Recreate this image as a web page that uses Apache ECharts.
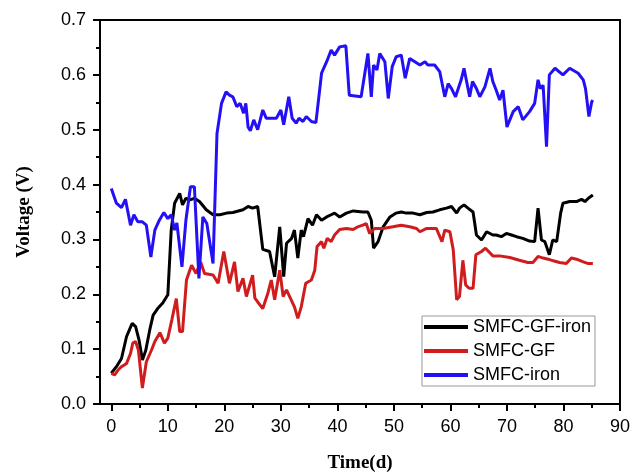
<!DOCTYPE html>
<html>
<head>
<meta charset="utf-8">
<script src="https://cdn.jsdelivr.net/npm/echarts@6/dist/echarts.min.js"></script>
<style>html,body{margin:0;padding:0;background:#fff;}#c{width:632px;height:474px;}</style>
</head>
<body>
<div id="c"></div>
<script>
const seriesNames = ['SMFC-GF-iron', 'SMFC-GF', 'SMFC-iron'];
const xMajorTicks = [0, 10, 20, 30, 40, 50, 60, 70, 80, 90];
const xMinorTicks = [5, 15, 25, 35, 45, 55, 65, 75, 85];
const yMajorTicks = [0, 0.1, 0.2, 0.3, 0.4, 0.5, 0.6, 0.7];
const yMinorTicks = [0.05, 0.15, 0.25, 0.35, 0.45, 0.55, 0.65];

// [day, voltage]
const gfIron = [[0,0.056],[0.9,0.068],[1.8,0.083],[2.7,0.123],[3.2,0.135],[3.7,0.147],[4.3,0.141],[4.9,0.117],[5.5,0.080],[6.1,0.098],[6.8,0.135],[7.4,0.162],[8.2,0.174],[9.1,0.184],[10.0,0.199],[10.6,0.317],[11.2,0.366],[12.1,0.384],[12.6,0.363],[13.2,0.375],[13.9,0.372],[14.7,0.375],[15.6,0.369],[16.8,0.354],[18.0,0.345],[19.2,0.345],[20.4,0.348],[21.5,0.349],[23.3,0.354],[24.2,0.360],[25.0,0.357],[25.9,0.360],[26.8,0.282],[28.0,0.278],[28.9,0.232],[29.8,0.323],[30.5,0.232],[31.0,0.293],[31.9,0.302],[32.4,0.317],[33.0,0.266],[33.6,0.317],[34.0,0.305],[34.8,0.338],[35.6,0.326],[36.3,0.345],[37.2,0.335],[38.1,0.341],[38.9,0.345],[39.5,0.348],[40.4,0.341],[41.6,0.348],[42.8,0.352],[44.5,0.350],[45.4,0.350],[46.0,0.335],[46.4,0.284],[47.2,0.296],[48.1,0.323],[49.3,0.341],[50.4,0.348],[51.3,0.350],[52.2,0.348],[53.4,0.348],[54.6,0.345],[55.8,0.349],[56.9,0.350],[58.1,0.354],[59.3,0.357],[60.2,0.360],[61.1,0.348],[61.6,0.357],[62.4,0.363],[63.1,0.357],[64.0,0.350],[64.6,0.308],[65.5,0.299],[66.4,0.314],[67.5,0.308],[68.1,0.308],[69.0,0.305],[69.9,0.311],[70.8,0.308],[71.7,0.305],[72.8,0.302],[74.0,0.297],[74.9,0.296],[75.5,0.357],[76.1,0.299],[76.7,0.296],[77.5,0.272],[78.1,0.299],[78.8,0.296],[79.5,0.348],[79.9,0.366],[81.1,0.369],[82.3,0.369],[83.2,0.373],[83.8,0.369],[84.4,0.375],[85.2,0.381]];

const gf = [[0,0.056],[0.6,0.053],[1.2,0.062],[1.8,0.068],[2.7,0.074],[3.4,0.092],[3.8,0.111],[4.3,0.114],[4.8,0.098],[5.5,0.029],[6.2,0.077],[7.1,0.098],[7.7,0.114],[8.6,0.130],[9.4,0.111],[10.0,0.120],[10.7,0.153],[11.5,0.192],[12.1,0.132],[12.6,0.132],[13.3,0.226],[14.2,0.253],[15.0,0.238],[15.8,0.259],[16.5,0.238],[18.0,0.235],[18.9,0.220],[19.9,0.278],[20.9,0.220],[21.8,0.259],[22.4,0.205],[23.3,0.229],[23.9,0.196],[25.0,0.235],[25.4,0.193],[25.9,0.186],[26.8,0.174],[27.7,0.202],[28.3,0.226],[28.9,0.190],[29.8,0.244],[30.4,0.196],[31.0,0.208],[32.4,0.177],[33.0,0.156],[33.6,0.177],[34.4,0.220],[35.4,0.226],[36.0,0.244],[36.4,0.287],[37.2,0.296],[37.6,0.284],[38.2,0.302],[38.9,0.296],[39.5,0.308],[40.4,0.318],[41.6,0.320],[42.8,0.318],[43.6,0.323],[44.5,0.326],[45.1,0.329],[45.7,0.311],[46.6,0.320],[48.1,0.320],[49.8,0.323],[51.3,0.326],[52.8,0.323],[54.0,0.320],[54.6,0.314],[55.8,0.320],[57.5,0.320],[58.5,0.296],[59.0,0.317],[59.9,0.314],[60.5,0.281],[61.1,0.190],[61.6,0.196],[62.2,0.262],[62.7,0.217],[63.3,0.211],[64.0,0.211],[64.5,0.272],[65.5,0.278],[66.2,0.284],[67.5,0.270],[68.7,0.270],[70.5,0.267],[72.2,0.262],[73.7,0.258],[74.6,0.258],[75.5,0.269],[76.4,0.266],[77.3,0.264],[78.2,0.261],[79.3,0.258],[80.5,0.256],[81.4,0.266],[82.3,0.264],[83.5,0.259],[84.4,0.256],[85.2,0.256]];

const iron = [[0,0.393],[0.9,0.366],[1.8,0.358],[2.5,0.373],[3.4,0.326],[4.0,0.345],[4.7,0.332],[5.5,0.332],[6.2,0.326],[7.0,0.268],[7.7,0.317],[8.5,0.335],[9.3,0.349],[10.0,0.338],[10.6,0.345],[11.2,0.317],[11.6,0.330],[12.5,0.250],[13.2,0.335],[14.0,0.396],[14.7,0.396],[15.5,0.229],[16.2,0.341],[16.9,0.329],[18.0,0.256],[18.7,0.493],[19.5,0.548],[20.3,0.569],[20.9,0.563],[21.5,0.560],[22.2,0.542],[22.8,0.548],[23.4,0.530],[23.8,0.548],[24.2,0.505],[24.6,0.498],[25.2,0.518],[25.9,0.500],[26.8,0.536],[27.4,0.521],[29.2,0.521],[30.0,0.536],[30.5,0.509],[31.4,0.560],[32.0,0.521],[32.7,0.512],[33.2,0.521],[33.9,0.515],[34.5,0.524],[35.4,0.515],[36.2,0.513],[37.2,0.603],[38.1,0.624],[38.9,0.645],[39.5,0.636],[40.4,0.651],[41.5,0.653],[42.1,0.563],[44.2,0.560],[45.4,0.639],[46.0,0.560],[46.4,0.618],[47.0,0.609],[47.5,0.639],[48.4,0.624],[49.0,0.557],[49.7,0.615],[50.4,0.633],[51.3,0.636],[52.0,0.594],[52.8,0.630],[53.7,0.624],[54.6,0.618],[55.5,0.624],[56.0,0.618],[57.2,0.618],[58.1,0.606],[59.0,0.560],[59.6,0.584],[60.2,0.575],[60.9,0.560],[61.9,0.591],[62.4,0.612],[62.8,0.591],[63.4,0.560],[63.9,0.588],[64.6,0.575],[65.2,0.560],[66.1,0.578],[67.0,0.612],[67.5,0.588],[68.1,0.572],[68.7,0.554],[69.3,0.572],[70.0,0.505],[71.1,0.533],[72.0,0.542],[72.8,0.518],[74.0,0.533],[74.9,0.548],[75.5,0.591],[75.9,0.575],[76.4,0.581],[77.0,0.469],[77.5,0.600],[78.5,0.612],[79.9,0.600],[81.1,0.612],[82.6,0.603],[83.5,0.591],[83.9,0.575],[84.5,0.524],[85.0,0.551],[85.2,0.554]];

const colors = ['#000000', '#d01c1c', '#2410f5'];
const X_MIN = -2, X_MAX = 90, Y_MIN = 0, Y_MAX = 0.7;

function buildOption() {
  const sans = 'Liberation Sans, Arial, sans-serif';
  const serif = 'Liberation Serif, Times New Roman, serif';
  const mkLine = () => ({show: true, onZero: false, lineStyle: {color: '#000', width: 2}});
  const mkTick = () => ({color: '#000', width: 2});
  return {
    backgroundColor: '#fff',
    animation: false,
    color: colors.slice(),
    grid: {left: 100, right: 12, top: 20, bottom: 70, containLabel: false, outerBoundsMode: 'none'},
    legend: {
      orient: 'vertical', left: 422, top: 316,
      data: seriesNames.slice(), icon: 'rect', itemWidth: 44, itemHeight: 4, itemGap: 6,
      padding: [2, 4, 2, 2], borderColor: '#999', borderWidth: 1, backgroundColor: '#fff',
      textStyle: {fontFamily: sans, fontSize: 18, color: '#000'}
    },
    xAxis: [{
      type: 'value', min: X_MIN, max: X_MAX, position: 'bottom',
      name: 'Time(d)', nameLocation: 'middle', nameGap: 50,
      nameTextStyle: {fontFamily: serif, fontWeight: 'bold', fontSize: 19, color: '#000'},
      axisLine: mkLine(),
      axisTick: {show: true, length: 7, lineStyle: mkTick(), customValues: xMajorTicks.slice()},
      axisLabel: {fontFamily: sans, fontSize: 18, color: '#000', margin: 14, customValues: xMajorTicks.slice()},
      splitLine: {show: false}
    }, {
      type: 'value', min: X_MIN, max: X_MAX, position: 'bottom', offset: 0,
      axisLine: {show: false, onZero: false},
      axisTick: {show: true, length: 4, lineStyle: mkTick(), customValues: xMinorTicks.slice()},
      axisLabel: {show: false},
      splitLine: {show: false}
    }, {
      type: 'value', min: X_MIN, max: X_MAX, position: 'top',
      axisLine: mkLine(), axisTick: {show: false}, axisLabel: {show: false}, splitLine: {show: false}
    }],
    yAxis: [{
      type: 'value', min: Y_MIN, max: Y_MAX, interval: 0.1, position: 'left',
      name: 'Voltage (V)', nameLocation: 'middle', nameGap: 66,
      nameTextStyle: {fontFamily: serif, fontWeight: 'bold', fontSize: 19, color: '#000'},
      axisLine: mkLine(),
      axisTick: {show: true, length: 7, lineStyle: mkTick()},
      minorTick: {show: true, splitNumber: 2, length: 4, lineStyle: mkTick()},
      axisLabel: {fontFamily: sans, fontSize: 18, color: '#000', margin: 14, formatter: v => Number(v).toFixed(1)},
      splitLine: {show: false}, minorSplitLine: {show: false}
    }, {
      type: 'value', min: Y_MIN, max: Y_MAX, interval: 0.1, position: 'right',
      axisLine: mkLine(), axisTick: {show: false}, axisLabel: {show: false}, splitLine: {show: false}
    }],
    series: [
      {name: seriesNames[0], type: 'line', data: gfIron, symbol: 'none', lineStyle: {width: 3}},
      {name: seriesNames[1], type: 'line', data: gf, symbol: 'none', lineStyle: {width: 3}},
      {name: seriesNames[2], type: 'line', data: iron, symbol: 'none', lineStyle: {width: 3}}
    ]
  };
}

const chart = echarts.init(document.getElementById('c'));
chart.setOption(buildOption());

// Check whether the axis frame actually got painted; if not, draw frame and ticks
// as graphic lines positioned through the chart's own axis scales.
function px(x, y) { return chart.convertToPixel({gridIndex: 0}, [x, y]); }
function isDarkAt(x, y, dx, dy) {
  try {
    const cv = chart.getDom().querySelector('canvas');
    const ctx = cv.getContext('2d');
    for (let k = -2; k <= 2; k++) {
      const d = ctx.getImageData(Math.round(x + k * dx), Math.round(y + k * dy), 1, 1).data;
      if (d[3] > 0 && d[0] < 90 && d[1] < 90 && d[2] < 90) return true;
    }
  } catch (e) { return true; }
  return false;
}
function ensureFrame() {
  const bl = px(X_MIN, Y_MIN), tr = px(X_MAX, Y_MAX);
  const midY = (bl[1] + tr[1]) / 2, midX = (bl[0] + tr[0]) / 2;
  const leftOk = isDarkAt(bl[0], midY + 7, 1, 0);
  const bottomOk = isDarkAt(midX + 9, bl[1], 0, 1);
  if (leftOk && bottomOk) return;
  const els = [];
  const ln = (x1, y1, x2, y2) => els.push({type: 'line', silent: true, z: 100,
    shape: {x1: x1, y1: y1, x2: x2, y2: y2}, style: {stroke: '#000', lineWidth: 2}});
  ln(bl[0], bl[1], tr[0], bl[1]);
  ln(bl[0], tr[1], tr[0], tr[1]);
  ln(bl[0], bl[1], bl[0], tr[1]);
  ln(tr[0], bl[1], tr[0], tr[1]);
  xMajorTicks.forEach(v => { const p = px(v, Y_MIN); ln(p[0], bl[1], p[0], bl[1] + 7); });
  xMinorTicks.forEach(v => { const p = px(v, Y_MIN); ln(p[0], bl[1], p[0], bl[1] + 4); });
  yMajorTicks.forEach(v => { const p = px(X_MIN, v); ln(bl[0], p[1], bl[0] - 7, p[1]); });
  yMinorTicks.forEach(v => { const p = px(X_MIN, v); ln(bl[0], p[1], bl[0] - 4, p[1]); });
  chart.setOption({graphic: {elements: els}});
}
ensureFrame();
</script>
</body>
</html>
